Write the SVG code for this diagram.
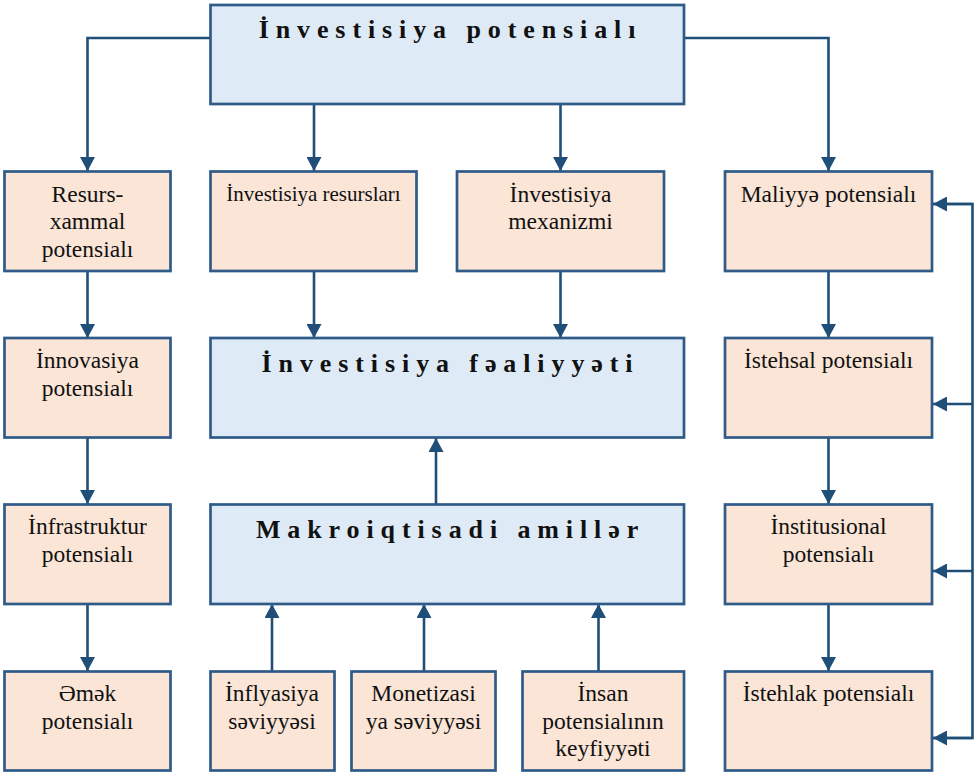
<svg xmlns="http://www.w3.org/2000/svg" width="979" height="772" viewBox="0 0 979 772">
<style>
.bg{fill:#ffffff}
.pe{fill:#fbe5d6;stroke:#2f5b88;stroke-width:2.7}
.bl{fill:#deeaf6;stroke:#2f5b88;stroke-width:2.7}
.t{font-family:"Liberation Serif","Times New Roman",serif;font-size:23.5px;fill:#111;text-anchor:middle}
.ts{font-size:21px}
.h{font-family:"Liberation Serif","Times New Roman",serif;font-size:26px;font-weight:bold;letter-spacing:6.9px;fill:#111;text-anchor:middle}
.c{fill:none;stroke:#1f4e79;stroke-width:2.6;marker-end:url(#ah)}
</style>
<defs>
<marker id="ah" viewBox="0 0 14 15" refX="14" refY="7.5" markerWidth="14" markerHeight="15" markerUnits="userSpaceOnUse" orient="auto">
<path d="M0,0 L14,7.5 L0,15 z" fill="#1f4e79"/>
</marker>
</defs>
<rect class="bg" x="0" y="0" width="979" height="772"/>
<g id="connectors">
<path class="c" d="M210,38 H87.5 V171"/>
<path class="c" d="M684,38 H828.5 V171"/>
<path class="c" d="M314,104 V171"/>
<path class="c" d="M560.5,104 V171"/>
<path class="c" d="M87.5,271 V338"/>
<path class="c" d="M87.5,438 V504"/>
<path class="c" d="M87.5,604 V671"/>
<path class="c" d="M828.5,271 V338"/>
<path class="c" d="M828.5,438 V504"/>
<path class="c" d="M828.5,604 V671"/>
<path class="c" d="M314,271 V338"/>
<path class="c" d="M560.5,271 V338"/>
<path class="c" d="M436,504 V438"/>
<path class="c" d="M272,671 V604"/>
<path class="c" d="M424,671 V604"/>
<path class="c" d="M598.5,671 V604"/>
<path fill="none" stroke="#1f4e79" stroke-width="2.6" d="M933,204 H972.5 V738 H933"/>
<path class="c" d="M972.5,204 H933"/>
<path class="c" d="M972.5,404 H933"/>
<path class="c" d="M972.5,571 H933"/>
<path class="c" d="M972.5,738 H933"/>
</g>
<g id="n-top">
<rect class="bl" x="210.5" y="5" width="473.5" height="99"/>
<text class="h" x="450.5" y="38">İnvestisiya potensialı</text>
</g>
<g id="n-resurs">
<rect class="pe" x="4.5" y="171.5" width="166" height="99.5"/>
<text class="t" x="87.5" y="201.5">Resurs-</text>
<text class="t" x="87.5" y="229">xammal</text>
<text class="t" x="87.5" y="256.5">potensialı</text>
</g>
<g id="n-invres">
<rect class="pe" x="210.5" y="171.5" width="206" height="99.5"/>
<text class="t ts" x="313.5" y="200.5">İnvestisiya resursları</text>
</g>
<g id="n-mexanizm">
<rect class="pe" x="457" y="171.5" width="207" height="99.5"/>
<text class="t" x="560.5" y="201.5">İnvestisiya</text>
<text class="t" x="560.5" y="229">mexanizmi</text>
</g>
<g id="n-maliyye">
<rect class="pe" x="725" y="171.5" width="207" height="99.5"/>
<text class="t" x="828.5" y="201.5">Maliyyə potensialı</text>
</g>
<g id="n-innovasiya">
<rect class="pe" x="4.5" y="338" width="166" height="99.5"/>
<text class="t" x="87.5" y="367.5">İnnovasiya</text>
<text class="t" x="87.5" y="395.5">potensialı</text>
</g>
<g id="n-faaliyyet">
<rect class="bl" x="210.5" y="338" width="473.5" height="99.5"/>
<text class="h" x="450.5" y="371.5">İnvestisiya fəaliyyəti</text>
</g>
<g id="n-istehsal">
<rect class="pe" x="725" y="338" width="207" height="99.5"/>
<text class="t" x="828.5" y="368">İstehsal potensialı</text>
</g>
<g id="n-infrastruktur">
<rect class="pe" x="4.5" y="504.5" width="166" height="99.5"/>
<text class="t" x="87.5" y="534">İnfrastruktur</text>
<text class="t" x="87.5" y="562">potensialı</text>
</g>
<g id="n-makro">
<rect class="bl" x="210.5" y="504.5" width="473.5" height="99.5"/>
<text class="h" x="450.5" y="538">Makroiqtisadi amillər</text>
</g>
<g id="n-institusional">
<rect class="pe" x="725" y="504.5" width="207" height="99.5"/>
<text class="t" x="828.5" y="534">İnstitusional</text>
<text class="t" x="828.5" y="562">potensialı</text>
</g>
<g id="n-emek">
<rect class="pe" x="4.5" y="671.5" width="166" height="99"/>
<text class="t" x="87.5" y="701">Əmək</text>
<text class="t" x="87.5" y="729">potensialı</text>
</g>
<g id="n-inflyasiya">
<rect class="pe" x="210.5" y="671.5" width="124" height="99"/>
<text class="t" x="272" y="701">İnflyasiya</text>
<text class="t" x="272" y="729">səviyyəsi</text>
</g>
<g id="n-monetizasiya">
<rect class="pe" x="351.5" y="671.5" width="144" height="99"/>
<text class="t" x="423.5" y="701">Monetizasi</text>
<text class="t" x="423.5" y="729">ya səviyyəsi</text>
</g>
<g id="n-insan">
<rect class="pe" x="522.5" y="671.5" width="161.5" height="99"/>
<text class="t" x="603" y="701">İnsan</text>
<text class="t" x="603" y="728.5">potensialının</text>
<text class="t" x="603" y="756">keyfiyyəti</text>
</g>
<g id="n-istehlak">
<rect class="pe" x="725" y="671.5" width="207" height="99"/>
<text class="t" x="828.5" y="701">İstehlak potensialı</text>
</g>
</svg>
